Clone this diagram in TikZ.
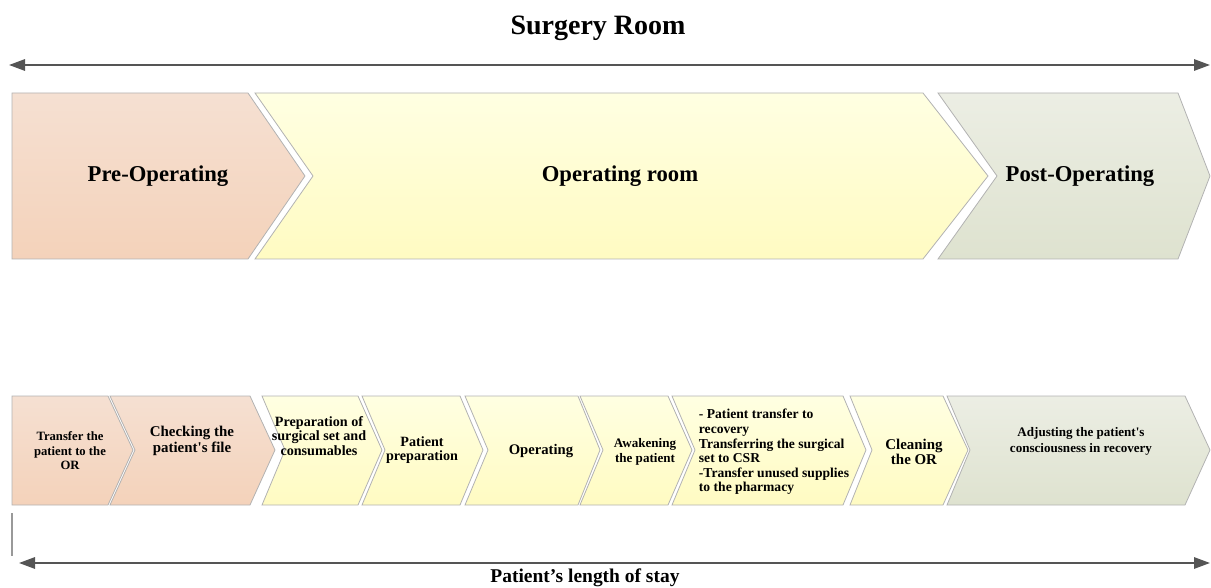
\documentclass[tikz,border=0pt]{standalone}
\usepackage{fontspec}
\setmainfont{Liberation Serif}
\usetikzlibrary{arrows.meta}

\definecolor{preTop}{RGB}{245,224,210}
\definecolor{preBot}{RGB}{244,210,186}
\definecolor{opTop}{RGB}{255,255,226}
\definecolor{opBot}{RGB}{255,251,194}
\definecolor{postTop}{RGB}{236,238,228}
\definecolor{postBot}{RGB}{222,226,207}
\definecolor{spanGrey}{RGB}{85,85,85}

\begin{document}
\begin{tikzpicture}
  [x=0.75pt,y=-0.75pt,
   phase/.style={draw=black!30,line width=0.6pt},
   span/.style={draw=spanGrey,line width=1.5pt,{Triangle[length=12pt,width=8.5pt]}-{Triangle[length=12pt,width=8.5pt]}},
   big/.style={font=\bfseries\fontsize{17}{20}\selectfont,inner sep=0pt},
   task/.style={align=center,inner sep=0pt}]
  \useasboundingbox (0,0) rectangle (1211,588);

  % phases
  \draw[phase,top color=preTop,bottom color=preBot]
    (12,93) -- (248,93) -- (305,176) -- (248,259) -- (12,259) -- cycle;
  \draw[phase,top color=opTop,bottom color=opBot]
    (255,93) -- (923,93) -- (988,176) -- (923,259) -- (255,259) -- (313,176) -- cycle;
  \draw[phase,top color=postTop,bottom color=postBot]
    (938,93) -- (1178,93) -- (1210,176) -- (1178,259) -- (938,259) -- (997,176) -- cycle;

  % tasks
  \foreach \l/\n/\r/\t/\col in {12/12/108/133/pre,110/135/250/275/pre,
      262/285/358/382/op,362/385/460/483/op,465/488/578/600/op,
      580/603/668/692/op,672/695/843/866/op,850/872/943/968/op,
      947/970/1185/1210/post}
    \draw[phase,top color=\col Top,bottom color=\col Bot]
      (\l,396) -- (\r,396) -- (\t,450) -- (\r,505) -- (\l,505) -- (\n,450) -- cycle;

  \node[font=\bfseries\fontsize{21}{24}\selectfont] (room) at (598,28) {Surgery Room};
  \coordinate (roomL) at (9,65);
  \coordinate (roomR) at (1210,65);
  \draw[span] (roomL) -- (roomR);

  \node[big] (preop) at (158,176) {Pre-Operating};
  \node[big] (oproom) at (620,176) {Operating room};
  \node[big] (postop) at (1080,176) {Post-Operating};

  \node[task,font=\bfseries\fontsize{9.5}{10.8}\selectfont] (transfer) at (70,451)
    {Transfer the\\patient to the\\OR};
  \node[task,font=\bfseries\fontsize{11.2}{12.6}\selectfont] (check) at (192,441)
    {Checking the\\patient\textquotesingle s file};
  \node[task,font=\bfseries\fontsize{10.6}{10.9}\selectfont] (prepset) at (319,436)
    {Preparation of\\surgical set and\\consumables};
  \node[task,font=\bfseries\fontsize{10.6}{10.9}\selectfont] (patprep) at (422,450)
    {Patient\\preparation};
  \node[task,font=\bfseries\fontsize{11}{12}\selectfont] (operating) at (541,451)
    {Operating};
  \node[task,font=\bfseries\fontsize{9.8}{11.2}\selectfont] (awaken) at (645,452)
    {Awakening\\the patient};
  \node[task,align=left,font=\bfseries\fontsize{10.2}{10.9}\selectfont] (handover) at (774,452)
    {- Patient transfer to\\recovery\\Transferring the surgical\\set to CSR\\-Transfer unused supplies\\to the pharmacy};
  \node[task,font=\bfseries\fontsize{11.2}{11.2}\selectfont] (cleaning) at (914,452)
    {Cleaning\\the OR};
  \node[task,font=\bfseries\fontsize{9.8}{12}\selectfont] (adjust) at (1081,441)
    {Adjusting the patient\textquotesingle s\\consciousness in recovery};

  \draw[black!40,line width=0.8pt] (12,513) -- (12,556);
  \coordinate (stayL) at (19,563);
  \coordinate (stayR) at (1210,563);
  \draw[span] (stayL) -- (stayR);
  \node[font=\bfseries\fontsize{14.6}{17}\selectfont] (stay) at (585,578) {Patient’s length of stay};
\end{tikzpicture}
\end{document}
